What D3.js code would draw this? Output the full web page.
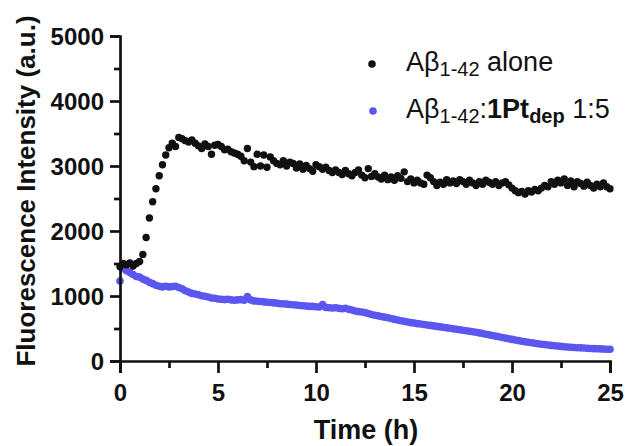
<!DOCTYPE html>
<html><head><meta charset="utf-8">
<script src="https://cdn.jsdelivr.net/npm/d3@7"></script>
<style>html,body{margin:0;padding:0;background:#fff;}svg{display:block;}</style>
</head><body>
<svg id="chart" width="625" height="446"></svg>
<script>
// ---- data ----
const timeStepH = 1/6; // 10-min sampling
const alone = [1450,1500,1480,1510,1460,1500,1530,1640,1900,2200,2450,2650,2850,3020,3170,3280,3350,3300,3440,3420,
3390,3370,3400,3350,3310,3270,3340,3300,3180,3320,3330,3300,3250,3260,3220,3200,3180,3150,3080,3270,
3060,2990,3180,3000,3170,2980,3140,3080,3040,3020,3080,3000,3060,3040,2970,3030,2950,3010,2960,2920,
3020,2990,2950,2980,2930,2900,2940,2900,2870,2930,2880,2850,2900,2940,2860,2820,2960,2840,2880,2830,
2800,2860,2790,2830,2780,2850,2810,2910,2760,2800,2740,2780,2740,2720,2860,2820,2760,2700,2750,2720,
2790,2740,2770,2730,2790,2760,2720,2780,2740,2700,2760,2720,2780,2750,2720,2760,2700,2740,2760,2710,
2660,2620,2590,2610,2570,2620,2600,2640,2620,2660,2700,2680,2760,2720,2780,2740,2800,2700,2770,2680,
2760,2730,2690,2750,2700,2660,2720,2680,2740,2680,2650];
const withPt = [1230,1420,1390,1360,1330,1300,1290,1260,1240,1210,1190,1165,1150,1140,1150,1140,1145,1150,1130,1110,
1080,1060,1040,1030,1020,1005,995,985,970,965,955,950,945,950,940,935,940,945,935,990,
940,925,920,915,910,905,900,895,890,880,880,875,870,865,860,855,850,845,840,840,
835,830,870,825,820,815,820,810,805,810,795,785,770,760,755,745,730,715,705,695,
685,675,665,655,640,630,620,610,600,590,585,575,570,562,555,548,540,532,525,518,
510,505,495,488,480,472,465,458,450,442,432,422,412,402,392,382,372,362,352,342,
332,322,314,305,296,288,280,272,265,258,252,246,240,235,230,225,220,216,212,208,
205,202,199,196,193,190,188,186,183,181,180];
const xTicks = [0,5,10,15,20,25];
const xMinorTicks = [2.5,7.5,12.5,17.5,22.5];
const yTicks = [0,1000,2000,3000,4000,5000];
const yMinorTicks = [500,1500,2500,3500,4500];

// ---- layout ----
const svg = d3.select("#chart");
const x = d3.scaleLinear().domain([0,25]).range([120,610]);
const y = d3.scaleLinear().domain([0,5000]).range([361,36]);
const BLUE = "#5b56f0", BLACK = "#111";
const font = "'Liberation Sans', Arial, Helvetica, sans-serif";

function pts(arr){ return arr.map((v,i)=>({t:i*timeStepH, v})); }

// data
svg.append("g").selectAll("circle").data(pts(withPt)).join("circle")
  .attr("cx",d=>x(d.t)).attr("cy",d=>y(d.v)).attr("r",3.8).attr("fill",BLUE);
svg.append("g").selectAll("circle").data(pts(alone)).join("circle")
  .attr("cx",d=>x(d.t)).attr("cy",d=>y(d.v)).attr("r",3.7).attr("fill",BLACK);

// axes
const xAxis = svg.append("g").attr("transform","translate(0,361)")
  .call(d3.axisBottom(x).tickValues(xTicks).tickSize(12).tickFormat(d3.format("d")));
const xMinor = svg.append("g").attr("transform","translate(0,361)")
  .call(d3.axisBottom(x).tickValues(xMinorTicks).tickSize(7).tickFormat(""));
const yAxis = svg.append("g").attr("transform","translate(120,0)")
  .call(d3.axisLeft(y).tickValues(yTicks).tickSize(10).tickFormat(d3.format("d")));
const yMinor = svg.append("g").attr("transform","translate(120,0)")
  .call(d3.axisLeft(y).tickValues(yMinorTicks).tickSize(6).tickFormat(""));
[xAxis,xMinor,yAxis,yMinor].forEach(g=>{
  g.selectAll("path").attr("stroke",BLACK).attr("stroke-width",2.7);
  g.selectAll("line").attr("stroke",BLACK).attr("stroke-width",2.7);
  g.selectAll("text").attr("fill",BLACK).attr("font-family",font).attr("font-weight","bold").attr("font-size",24);
});
xMinor.select("path").remove(); yMinor.select("path").remove();
xAxis.selectAll("text").attr("dy","0").attr("y",40);
yAxis.selectAll("text").attr("x",-16).attr("dy","0.36em");

// axis titles
svg.append("text").attr("x",366).attr("y",439).attr("text-anchor","middle")
  .attr("font-family",font).attr("font-weight","bold").attr("font-size",27).attr("fill",BLACK).text("Time (h)");
svg.append("text").attr("transform","translate(35,191) rotate(-90)").attr("text-anchor","middle")
  .attr("font-family",font).attr("font-weight","bold").attr("font-size",26).attr("fill",BLACK)
  .text("Fluorescence Intensity (a.u.)");

// legend
const leg = svg.append("g").attr("font-family",font).attr("fill",BLACK);
leg.append("circle").attr("cx",372).attr("cy",64).attr("r",3.8).attr("fill",BLACK);
leg.append("circle").attr("cx",373).attr("cy",111).attr("r",3.8).attr("fill",BLUE);
const t1 = leg.append("text").attr("x",406).attr("y",71).attr("font-size",27);
t1.append("tspan").text("Aβ");
t1.append("tspan").attr("font-size",20).attr("dy",5).text("1-42");
t1.append("tspan").attr("dy",-5).text(" alone");
const t2 = leg.append("text").attr("x",406).attr("y",118).attr("font-size",27);
t2.append("tspan").text("Aβ");
t2.append("tspan").attr("font-size",20).attr("dy",5).text("1-42");
t2.append("tspan").attr("dy",-5).text(":");
t2.append("tspan").attr("font-weight","bold").text("1Pt");
t2.append("tspan").attr("font-weight","bold").attr("font-size",20).attr("dy",5).text("dep");
t2.append("tspan").attr("dy",-5).text(" 1:5");
</script>
</body></html>
